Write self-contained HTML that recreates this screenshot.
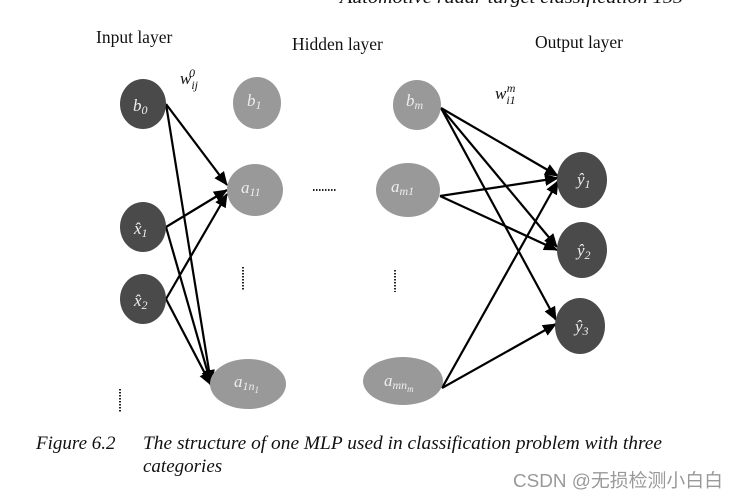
<!DOCTYPE html>
<html><head><meta charset="utf-8"><style>
body{margin:0;background:#fff;width:738px;height:499px;overflow:hidden}
svg{display:block}
.t{font-family:"Liberation Serif",serif;fill:#111}
.m{font-family:"Liberation Serif",serif;font-style:italic;fill:#eee;font-size:17px}
</style></head><body>
<svg width="738" height="499" viewBox="0 0 738 499">
<defs>
<marker id="b" markerWidth="14" markerHeight="12" refX="13" refY="6" orient="auto" markerUnits="userSpaceOnUse"><path d="M0,0 L14,6 L0,12z" fill="#000"/></marker></defs>
<text x="340" y="3" class="t" font-size="18" font-style="italic" fill="#444" textLength="343" lengthAdjust="spacingAndGlyphs">Automotive radar target classification    155</text>
<text x="96" y="43" class="t" font-size="17.5">Input layer</text>
<text x="292" y="50" class="t" font-size="17.5">Hidden layer</text>
<text x="535" y="48" class="t" font-size="17.5">Output layer</text>
<text x="180" y="84" class="t" font-size="17" font-style="italic">w<tspan font-size="12" dy="5">ij</tspan><tspan font-size="12" dx="-9" dy="-12">0</tspan></text>
<text x="495" y="99" class="t" font-size="17" font-style="italic">w<tspan font-size="12" dy="5">i1</tspan><tspan font-size="12" dx="-9" dy="-12">m</tspan></text>
<g stroke="#000" stroke-width="2.2" fill="none">
<line x1="166" y1="104" x2="227" y2="185" marker-end="url(#b)"/>
<line x1="166" y1="104" x2="211" y2="383" marker-end="url(#b)"/>
<line x1="166" y1="227" x2="227" y2="190" marker-end="url(#b)"/>
<line x1="166" y1="227" x2="211" y2="384" marker-end="url(#b)"/>
<line x1="166" y1="299" x2="227" y2="194" marker-end="url(#b)"/>
<line x1="166" y1="299" x2="211" y2="385" marker-end="url(#b)"/>
<line x1="441" y1="108" x2="558" y2="176" marker-end="url(#b)"/>
<line x1="441" y1="108" x2="557" y2="247" marker-end="url(#b)"/>
<line x1="441" y1="108" x2="556" y2="320" marker-end="url(#b)"/>
<line x1="440" y1="196" x2="558" y2="178" marker-end="url(#b)"/>
<line x1="440" y1="196" x2="557" y2="250" marker-end="url(#b)"/>
<line x1="442" y1="388" x2="558" y2="181" marker-end="url(#b)"/>
<line x1="442" y1="388" x2="556" y2="324" marker-end="url(#b)"/>
</g>
<g fill="#4a4a4a">
<ellipse cx="143" cy="104" rx="23" ry="25"/>
<ellipse cx="143" cy="227" rx="23" ry="25"/>
<ellipse cx="143" cy="299" rx="23" ry="25"/>
<ellipse cx="582" cy="180" rx="25" ry="28"/>
<ellipse cx="582" cy="250" rx="25" ry="28"/>
<ellipse cx="580" cy="326" rx="25" ry="28"/>
</g>
<g fill="#999">
<ellipse cx="257" cy="103" rx="24" ry="26"/>
<ellipse cx="255" cy="190" rx="28" ry="26"/>
<ellipse cx="248" cy="384" rx="38" ry="25"/>
<ellipse cx="417" cy="105" rx="24" ry="25"/>
<ellipse cx="408" cy="190" rx="32" ry="27"/>
<ellipse cx="403" cy="381" rx="40" ry="24"/>
</g>
<text x="133" y="111" class="m">b<tspan font-size="12" dy="3">0</tspan></text>
<text x="134" y="234" class="m">x̂<tspan font-size="12" dy="3">1</tspan></text>
<text x="134" y="306" class="m">x̂<tspan font-size="12" dy="3">2</tspan></text>
<text x="247" y="106" class="m">b<tspan font-size="12" dy="3">1</tspan></text>
<text x="241" y="193" class="m">a<tspan font-size="12" dy="3">11</tspan></text>
<text x="234" y="387" class="m">a<tspan font-size="12" dy="3">1n</tspan><tspan font-size="9" dy="3">1</tspan></text>
<text x="406" y="106" class="m">b<tspan font-size="12" dy="3">m</tspan></text>
<text x="391" y="192" class="m">a<tspan font-size="12" dy="3">m1</tspan></text>
<text x="384" y="386" class="m">a<tspan font-size="12" dy="3">mn</tspan><tspan font-size="9" dy="3">m</tspan></text>
<text x="577" y="185" class="m">ŷ<tspan font-size="12" dy="3">1</tspan></text>
<text x="577" y="256" class="m">ŷ<tspan font-size="12" dy="3">2</tspan></text>
<text x="575" y="332" class="m">ŷ<tspan font-size="12" dy="3">3</tspan></text>
<g stroke="#222" stroke-width="2" stroke-dasharray="1.5,1.5">
<line x1="313" y1="190" x2="336" y2="190"/>
<line x1="243" y1="267" x2="243" y2="290"/>
<line x1="395" y1="270" x2="395" y2="292"/>
<line x1="120" y1="389" x2="120" y2="413"/>
</g>
<text x="36" y="449" class="t" font-size="19" font-style="italic">Figure 6.2</text>
<text x="143" y="449" class="t" font-size="19" font-style="italic" textLength="519" lengthAdjust="spacingAndGlyphs">The structure of one MLP used in classification problem with three</text>
<text x="143" y="472" class="t" font-size="19" font-style="italic">categories</text>
<text x="513" y="487" font-family="'Liberation Sans','Noto Sans CJK SC',sans-serif" font-size="18.5" fill="#999" textLength="210" lengthAdjust="spacingAndGlyphs">CSDN @无损检测小白白</text>
</svg>
</body></html>
